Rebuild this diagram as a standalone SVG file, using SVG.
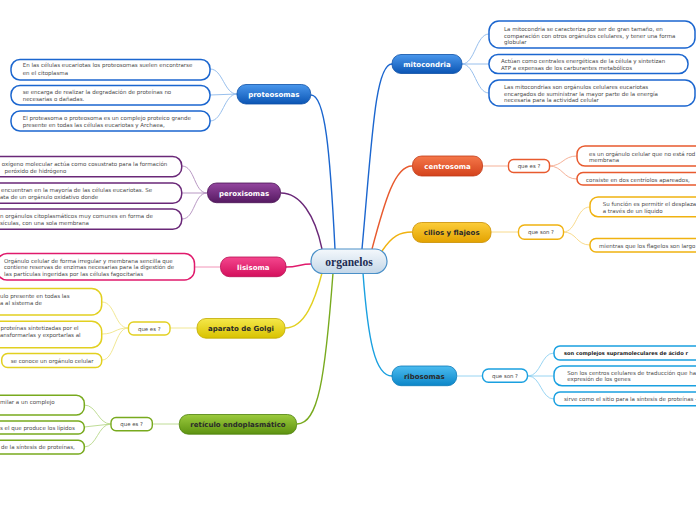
<svg xmlns="http://www.w3.org/2000/svg" width="696" height="520" viewBox="0 0 696 520">
<defs>
<linearGradient id="gBlue" x1="0" y1="0" x2="0" y2="1"><stop offset="0" stop-color="#4a97ec"/><stop offset="1" stop-color="#0b55b4"/></linearGradient>
<linearGradient id="gOrange" x1="0" y1="0" x2="0" y2="1"><stop offset="0" stop-color="#f5784a"/><stop offset="1" stop-color="#d4421c"/></linearGradient>
<linearGradient id="gCilios" x1="0" y1="0" x2="0" y2="1"><stop offset="0" stop-color="#fccd3a"/><stop offset="1" stop-color="#e3a200"/></linearGradient>
<linearGradient id="gCyan" x1="0" y1="0" x2="0" y2="1"><stop offset="0" stop-color="#4cbcf0"/><stop offset="1" stop-color="#0b86c8"/></linearGradient>
<linearGradient id="gPurple" x1="0" y1="0" x2="0" y2="1"><stop offset="0" stop-color="#94469f"/><stop offset="1" stop-color="#561a62"/></linearGradient>
<linearGradient id="gPink" x1="0" y1="0" x2="0" y2="1"><stop offset="0" stop-color="#f4478e"/><stop offset="1" stop-color="#d40f5c"/></linearGradient>
<linearGradient id="gGolgi" x1="0" y1="0" x2="0" y2="1"><stop offset="0" stop-color="#f5e84a"/><stop offset="1" stop-color="#d8c200"/></linearGradient>
<linearGradient id="gGreen" x1="0" y1="0" x2="0" y2="1"><stop offset="0" stop-color="#9ccb3e"/><stop offset="1" stop-color="#5d9210"/></linearGradient>
<linearGradient id="gCenter" x1="0" y1="0" x2="0" y2="1"><stop offset="0" stop-color="#f4f8fc"/><stop offset="0.5" stop-color="#dde8f2"/><stop offset="1" stop-color="#c3d6e8"/></linearGradient>
</defs>
<style>
.lt{font-family:"DejaVu Sans",Verdana,sans-serif;font-size:5.5px;fill:#4a4a4a}
.ltb{font-family:"DejaVu Sans",Verdana,sans-serif;font-size:5.1px;font-weight:bold;fill:#222}
.bt{font-family:"DejaVu Sans",Verdana,sans-serif;font-weight:bold;font-size:7px;text-anchor:middle}
.w{fill:#ffffff}
.d{fill:#2a2a2a}
.leaf{fill:#ffffff;stroke-width:1.5}
.c{fill:none}
.main{stroke-width:1.4}
.thin{stroke-width:0.9}
.sub{fill:#ffffff;stroke-width:1.4}
.st{font-family:"DejaVu Sans",Verdana,sans-serif;font-size:5.4px;fill:#444;text-anchor:middle}
.blue{stroke:#1b66cf}.orange{stroke:#e85a2e}.cil{stroke:#f0b210}.cyan{stroke:#1aa0e0}
.purple{stroke:#6a2878}.pink{stroke:#e01a6c}.golgi{stroke:#e2d020}.green{stroke:#78aa1e}
.lblue{stroke:#8cb8ea}.lorange{stroke:#f4a88c}.lcil{stroke:#f7d680}.lcyan{stroke:#8ccff0}
.lpurple{stroke:#b08cbc}.lpink{stroke:#f088b0}.lgolgi{stroke:#efe488}.lgreen{stroke:#b8d88a}
</style>

<g id="connectors">
<path class="c main blue" d="M 362 249 C 372 140, 375 64, 392 64"/>
<path class="c main blue" d="M 335 249 C 330 150, 325 95, 311 95"/>
<path class="c main purple" d="M 322 249 C 315 215, 300 193, 281 193"/>
<path class="c main pink" d="M 311 264 C 300 264, 298 267, 286 267"/>
<path class="c main golgi" d="M 322 273 C 315 300, 305 328, 285 328"/>
<path class="c main green" d="M 333 273 C 325 380, 318 424, 297 424"/>
<path class="c main cyan" d="M 363 273 C 368 340, 375 376, 392 376"/>
<path class="c main orange" d="M 372 249 C 385 200, 395 166, 412 166"/>
<path class="c main cil" d="M 382 251 C 392 236, 400 232, 412 232"/>

<path class="c thin lblue" d="M 462 64 C 475 64, 476 34, 489 34"/>
<path class="c thin lblue" d="M 462 64 L 489 64"/>
<path class="c thin lblue" d="M 462 64 C 475 64, 476 93, 489 93"/>

<path class="c thin lorange" d="M 482 166 L 508 166"/>
<path class="c thin lorange" d="M 549 166 C 563 166, 563 156, 577 156"/>
<path class="c thin lorange" d="M 549 166 C 563 166, 563 179, 577 179"/>

<path class="c thin lcil" d="M 491 232 L 518 232"/>
<path class="c thin lcil" d="M 563 232 C 577 232, 576 207, 590 207"/>
<path class="c thin lcil" d="M 563 232 C 577 232, 576 245, 590 245"/>

<path class="c thin lcyan" d="M 457 376 L 482 376"/>
<path class="c thin lcyan" d="M 528 376 C 541 376, 541 353, 554 353"/>
<path class="c thin lcyan" d="M 528 376 L 554 376"/>
<path class="c thin lcyan" d="M 528 376 C 541 376, 541 399, 554 399"/>

<path class="c thin lblue" d="M 237 94 C 224 94, 223 69, 210 69"/>
<path class="c thin lblue" d="M 237 94 L 210 95"/>
<path class="c thin lblue" d="M 237 94 C 224 94, 223 121, 210 121"/>

<path class="c thin lpurple" d="M 207 193 C 194 193, 195 166, 182 166"/>
<path class="c thin lpurple" d="M 207 193 L 182 193"/>
<path class="c thin lpurple" d="M 207 193 C 194 193, 195 219, 182 219"/>

<path class="c thin lpink" d="M 220 267 L 195 267"/>

<path class="c thin lgolgi" d="M 197 328 L 170 328"/>
<path class="c thin lgolgi" d="M 128 328 C 115 328, 115 302, 102 302"/>
<path class="c thin lgolgi" d="M 128 328 C 115 328, 115 334, 102 334"/>
<path class="c thin lgolgi" d="M 128 328 C 115 328, 115 360, 102 360"/>

<path class="c thin lgreen" d="M 179 424 L 152 424"/>
<path class="c thin lgreen" d="M 111 424 C 98 424, 97 405, 84 405"/>
<path class="c thin lgreen" d="M 111 424 L 84 427"/>
<path class="c thin lgreen" d="M 111 424 C 98 424, 97 447, 84 447"/>
</g>

<g id="organelos">
<rect x="311" y="249" width="76" height="24.5" rx="12" fill="url(#gCenter)" stroke="#4a90c8" stroke-width="1.2"/>
<text x="349" y="265.5" text-anchor="middle" font-family="'Liberation Serif','Times New Roman',serif" font-weight="bold" font-size="11.5" fill="#1c2c52">organelos</text>
</g>

<g id="mitocondria">
<rect x="392" y="54.5" width="70" height="19" rx="9" fill="url(#gBlue)" stroke="#0c4fa6" stroke-width="0.8"/>
<text class="bt w" x="427" y="66.5">mitocondria</text>
</g>
<g id="mito-1">
<rect class="leaf blue" x="489" y="21" width="206" height="27" rx="10"/>
<text class="lt" x="504" y="31">La mitocondria se caracteriza por ser de gran tamaño, en</text>
<text class="lt" x="504" y="37.5">comparación con otros orgánulos celulares, y tener una forma</text>
<text class="lt" x="504" y="44">globular</text>
</g>
<g id="mito-2">
<rect class="leaf blue" x="489" y="54.5" width="199" height="19" rx="9"/>
<text class="lt" x="501" y="62.5">Actúan como centrales energéticas de la célula y sintetizan</text>
<text class="lt" x="501" y="69.5">ATP a expensas de los carburantes metabólicos</text>
</g>
<g id="mito-3">
<rect class="leaf blue" x="489" y="80" width="206" height="26" rx="10"/>
<text class="lt" x="504" y="88.5">Las mitocondrias son orgánulos celulares eucariotas</text>
<text class="lt" x="504" y="95.5">encargados de suministrar la mayor parte de la energía</text>
<text class="lt" x="504" y="102.3">necesaria para la actividad celular</text>
</g>

<g id="centrosoma">
<rect x="412.5" y="156" width="70" height="20" rx="9" fill="url(#gOrange)" stroke="#c03a16" stroke-width="0.8"/>
<text class="bt w" x="447.5" y="168.5">centrosoma</text>
</g>
<g id="centro-q">
<rect class="sub orange" x="508.5" y="159.5" width="41" height="13" rx="5"/>
<text class="st" x="529" y="168">que es ?</text>
</g>
<g id="centro-1">
<rect class="leaf orange" x="577" y="146" width="140" height="20" rx="8"/>
<text class="lt" x="589" y="155.8">es un orgánulo celular que no está rod</text>
<text class="lt" x="589" y="161.8">membrana</text>
</g>
<g id="centro-2">
<rect class="leaf orange" x="577" y="172.5" width="140" height="12.5" rx="6"/>
<text class="lt" x="586" y="181.5">consiste en dos centríolos apareados,</text>
</g>

<g id="cilios">
<rect x="412.5" y="222.5" width="78.5" height="20" rx="9" fill="url(#gCilios)" stroke="#c98e00" stroke-width="0.8"/>
<text class="bt d" x="451.7" y="235">cilios y flajeos</text>
</g>
<g id="cilios-q">
<rect class="sub cil" x="518.5" y="225" width="45" height="14.3" rx="6"/>
<text class="st" x="541" y="234">que son ?</text>
</g>
<g id="cilios-1">
<rect class="leaf cil" x="590" y="197" width="130" height="19.7" rx="8"/>
<text class="lt" x="602.7" y="205.8">Su función es permitir el desplaza</text>
<text class="lt" x="602.7" y="212.8">a través de un líquido</text>
</g>
<g id="cilios-2">
<rect class="leaf cil" x="590" y="238.5" width="130" height="13.5" rx="6"/>
<text class="lt" x="599" y="247.8">mientras que los flagelos son largo</text>
</g>

<g id="ribosomas">
<rect x="392" y="366" width="64.7" height="19.7" rx="9" fill="url(#gCyan)" stroke="#0a78b8" stroke-width="0.8"/>
<text class="bt d" x="424.3" y="378.5">ribosomas</text>
</g>
<g id="ribo-q">
<rect class="sub cyan" x="482.5" y="369" width="45" height="13.3" rx="6"/>
<text class="st" x="505" y="377.8">que son ?</text>
</g>
<g id="ribo-1">
<rect class="leaf cyan" x="554" y="346" width="160" height="14" rx="6"/>
<text class="ltb" x="564" y="355.2">son complejos supramoleculares de ácido r</text>
</g>
<g id="ribo-2">
<rect class="leaf cyan" x="554" y="366" width="160" height="19.7" rx="8"/>
<text class="lt" x="567.3" y="374.8">Son los centros celulares de traducción que ha</text>
<text class="lt" x="567.3" y="381.2">expresión de los genes</text>
</g>
<g id="ribo-3">
<rect class="leaf cyan" x="554" y="392" width="160" height="13.7" rx="6"/>
<text class="lt" x="564" y="400.9">sirve como el sitio para la síntesis de proteínas -</text>
</g>

<g id="proteosomas">
<rect x="237" y="84.5" width="73.7" height="19.5" rx="9" fill="url(#gBlue)" stroke="#0c4fa6" stroke-width="0.8"/>
<text class="bt w" x="273.8" y="96.8">proteosomas</text>
</g>
<g id="prot-1">
<rect class="leaf blue" x="11" y="59.5" width="199" height="20.5" rx="9"/>
<text class="lt" x="22.7" y="67.2">En las células eucariotas los proteosomas suelen encontrarse</text>
<text class="lt" x="22.7" y="74.8">en el citoplasma</text>
</g>
<g id="prot-2">
<rect class="leaf blue" x="11" y="85.5" width="199" height="19.5" rx="9"/>
<text class="lt" x="22.7" y="93.8">se encarga de realizar la degradación de proteínas no</text>
<text class="lt" x="22.7" y="100.8">necesarias o dañadas.</text>
</g>
<g id="prot-3">
<rect class="leaf blue" x="11" y="111" width="199" height="20" rx="9"/>
<text class="lt" x="22.7" y="119.8">El proteasoma o proteosoma es un complejo proteico grande</text>
<text class="lt" x="22.7" y="126.8">presente en todas las células eucariotas y Archaea,</text>
</g>

<g id="peroxisomas">
<rect x="207.5" y="183" width="73" height="19.7" rx="9" fill="url(#gPurple)" stroke="#4a1254" stroke-width="0.8"/>
<text class="bt w" x="244" y="195.5">peroxisomas</text>
</g>
<g id="perox-1">
<rect class="leaf purple" x="-20" y="156.5" width="201.7" height="20.2" rx="9"/>
<text class="lt" x="1.7" y="166.2">oxígeno molecular actúa como cosustrato para la formación</text>
<text class="lt" x="4.5" y="172.8">peróxido de hidrógeno</text>
</g>
<g id="perox-2">
<rect class="leaf purple" x="-20" y="183" width="201.7" height="20.3" rx="9"/>
<text class="lt" x="1" y="191.8">encuentran en la mayoría de las células eucariotas.  Se</text>
<text class="lt" x="0" y="199.2">ata de un orgánulo oxidativo donde</text>
</g>
<g id="perox-3">
<rect class="leaf purple" x="-20" y="209" width="201.7" height="20.3" rx="9"/>
<text class="lt" x="0" y="217.8">n orgánulos citoplasmáticos muy comunes en forma de</text>
<text class="lt" x="0" y="224.8">sículas, con una sola membrana</text>
</g>

<g id="lisisoma">
<rect x="220.5" y="257" width="65.5" height="19.7" rx="9" fill="url(#gPink)" stroke="#b80c50" stroke-width="0.8"/>
<text class="bt w" x="253.3" y="269.5">lisisoma</text>
</g>
<g id="lis-1">
<rect class="leaf pink" x="-3" y="253.5" width="197.5" height="26.5" rx="10"/>
<text class="lt" x="4" y="262.5">Orgánulo celular de forma irregular y membrana sencilla que</text>
<text class="lt" x="4" y="268.6">contiene reservas de enzimas necesarias para la digestión de</text>
<text class="lt" x="4" y="275.5">las partículas ingeridas por las células fagocitarias</text>
</g>

<g id="golgi">
<rect x="197" y="318.5" width="88" height="19.7" rx="9" fill="url(#gGolgi)" stroke="#c0aa00" stroke-width="0.8"/>
<text class="bt d" x="241" y="331">aparato de Golgi</text>
</g>
<g id="golgi-q">
<rect class="sub golgi" x="128.5" y="322" width="41.5" height="13" rx="5"/>
<text class="st" x="149.3" y="330.5">que es ?</text>
</g>
<g id="golgi-1">
<rect class="leaf golgi" x="-20" y="288.5" width="121.7" height="26.5" rx="10"/>
<text class="lt" x="0" y="297.8">ulo presente en todas las</text>
<text class="lt" x="0" y="304.5">a al sistema de</text>
</g>
<g id="golgi-2">
<rect class="leaf golgi" x="-20" y="321.3" width="121.7" height="26.4" rx="10"/>
<text class="lt" x="0.5" y="330">proteínas sintetizadas por el</text>
<text class="lt" x="0" y="336.8">ansformarlas y exportarlas al</text>
</g>
<g id="golgi-3">
<rect class="leaf golgi" x="1.7" y="353.5" width="100" height="14" rx="6"/>
<text class="lt" x="10.7" y="362.8">se conoce un orgánulo celular</text>
</g>

<g id="reticulo">
<rect x="179.3" y="414.5" width="117.3" height="19.7" rx="9" fill="url(#gGreen)" stroke="#4d800a" stroke-width="0.8"/>
<text class="bt d" x="238" y="427">retículo endoplasmático</text>
</g>
<g id="ret-q">
<rect class="sub green" x="111" y="417.5" width="41.3" height="13.2" rx="5"/>
<text class="st" x="131.6" y="426">que es ?</text>
</g>
<g id="ret-1">
<rect class="leaf green" x="-20" y="395.3" width="104.3" height="19.7" rx="8"/>
<text class="lt" x="0" y="403.5">milar a un complejo</text>
</g>
<g id="ret-2">
<rect class="leaf green" x="-20" y="421" width="104.3" height="13" rx="6"/>
<text class="lt" x="0" y="429.5">s el que produce los lípidos</text>
</g>
<g id="ret-3">
<rect class="leaf green" x="-20" y="440.3" width="104.3" height="13.7" rx="6"/>
<text class="lt" x="1" y="448.8">de la síntesis de proteínas,</text>
</g>
</svg>
